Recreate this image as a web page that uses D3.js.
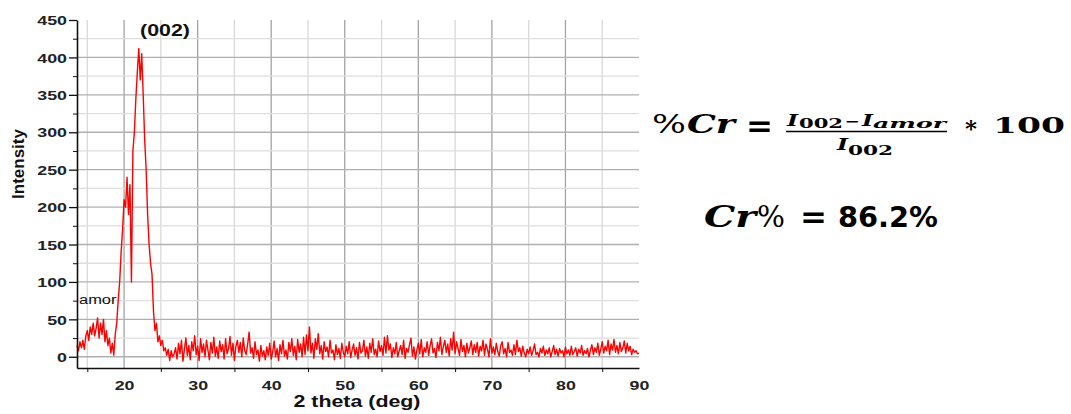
<!DOCTYPE html>
<html lang="en">
<head>
<meta charset="UTF-8">
<title>XRD crystallinity</title>
<script src="https://d3js.org/d3.v7.min.js"></script>
<style>
  body { margin: 0; background: #fff; }
  svg { display: block; }
  .axis text { font-family: "Liberation Sans", Arial, sans-serif; font-weight: bold; font-size: 13px; fill: #222; }
  .axis path, .axis line { stroke: #111; }
</style>
</head>
<body>
<svg id="chart" width="1071" height="414"></svg>
<script>
// scan settings (2 theta, deg)
const thetaStart = 13.6;
const thetaStep = 0.2;

// intensity, one value per 0.2 deg step
const intensity = [
  15, 8, 20, 12, 22, 10, 28, 35, 22, 40,
  30, 45, 28, 38, 52, 25, 45, 30, 50, 20,
  35, 15, 25, 5, 18, 2, 30, 45, 75, 100,
  140, 170, 210, 200, 240, 190, 230, 100, 275, 300,
  345, 380, 412, 370, 405, 350, 290, 250, 190, 150,
  125, 110, 60, 35, 45, 20, 28, 15, 22, 8,
  12, 2, 10, -5, 8, 0, 4,
  // 27.0 ->
  12, -3, 18, 4, 22, -6, 10, 25, 2, 15,
  -4, 20, 8, 28, 3, 14, -5, 24, 6, 17,
  0, 22, 9, -4, 19, 5, 26, 1, 13, -2,
  21, 7, 16, -3, 24, 4, 11, 27, 2, 18,
  -5, 14, 22, 6, 19, 0, 25, 8, 3, 17,
  33, 5, 12, -2, 20, 3, 9, -6, 15, 1,
  8, -4, 13, 2, 18, -3, 6, 21, 0, 11,
  -5, 16, 4, 22, 1, 9, -3, 19, 7, 24,
  2, 14, -4, 23, 6, 17, 0, 26, 3, 29,
  8, 40, 5, 18, -2, 24, 10, 31, 4, 15,
  -3, 20, 7, 13, 0, 22, 5, 9, -4, 16,
  3, 11, -2, 18, 6, 0, 14, 4, 20, -1,
  9, 17, 2, 12, -3, 19, 5, 8, 22, 1,
  13, -2, 18, 6, 24, 3, 10, 0, 21, 7,
  15, 2, 26, 5, 28, 9, 17, -1, 12, 4,
  19, 0, 8, 15, 3, 22, -2, 11, 6, 16,
  25, 1, 13, -3, 9, 18, 4, 23, 0, 12,
  6, 20, 2, 15, 24, 5, 11, -1, 19, 8,
  26, 3, 14, 22, 6, 17, 1, 24, 9, 33,
  4, 20, 11, 2, 23, 7, 15, 0, 18, 5,
  12, 21, 3, 16, 6, 19, 1, 14, 8, 22,
  2, 17, 10, 0, 24, 5, 13, 3, 18, 7,
  1, 15, 20, 4, 11, 0, 19, 6, 9, 2,
  16, 3, 22, 7, 12, 1, 14, 5, 0, 10,
  4, 13, 2, 8, 17, 3, 6, 0, 11, 5,
  14, 2, 9, 4, 12, 0, 7, 15, 3, 10,
  1, 11, 5, 8, 0, 13, 4, 9, 2, 14,
  3, 7, 12, 1, 10, 5, 15, 2, 8, 4,
  11, 0, 9, 16, 3, 12, 6, 18, 2, 10,
  20, 5, 14, 8, 22, 3, 17, 9, 23, 6,
  15, 4, 19, 7, 12, 21, 5, 18, 8, 14,
  3, 10, 6, 8, 4, 5
];

const xMajor = [20, 30, 40, 50, 60, 70, 80, 90];
const xMinor = [15, 25, 35, 45, 55, 65, 75, 85];
const yMajor = [0, 50, 100, 150, 200, 250, 300, 350, 400, 450];
const yMinor = [25, 75, 125, 175, 225, 275, 325, 375, 425];

const svg = d3.select('#chart');
const sx = 1.37; // the picture's text is stretched sideways

const x = d3.scaleLinear().domain([13.6, 90]).range([77, 639]);
const y = d3.scaleLinear().domain([-15, 450]).range([368, 20]);

// grid
const grid = svg.append('g');
grid.selectAll('line.v').data(xMinor.concat(xMajor.filter(d => d < 90)))
  .join('line').attr('class', 'v')
  .attr('x1', d => x(d)).attr('x2', d => x(d))
  .attr('y1', y(450)).attr('y2', y(-15))
  .attr('stroke', d => d % 10 === 0 ? '#a3a3a3' : '#d9d9d9')
  .attr('stroke-width', 1.3);
grid.selectAll('line.h').data(yMinor.concat(yMajor.filter(d => d < 450)))
  .join('line').attr('class', 'h')
  .attr('x1', x(13.6)).attr('x2', x(90))
  .attr('y1', d => y(d)).attr('y2', d => y(d))
  .attr('stroke', d => d % 50 === 0 ? '#b0b0b0' : '#dedede')
  .attr('stroke-width', 1.3);

// pattern
const pts = intensity.map((v, i) => [thetaStart + i * thetaStep, v]);
svg.append('path').datum(pts)
  .attr('fill', 'none').attr('stroke', '#ff0000').attr('stroke-width', 1.4)
  .attr('stroke-linejoin', 'round')
  .attr('d', d3.line().x(d => x(d[0])).y(d => y(d[1])));

// y axis
const yAxis = svg.append('g').attr('class', 'axis').attr('transform', `translate(${x(13.6)},0)`)
  .call(d3.axisLeft(y).tickValues(yMajor).tickSize(8).tickSizeOuter(0));
yAxis.select('.domain').attr('stroke-width', 1.6);
yAxis.selectAll('.tick line').attr('stroke-width', 1.3);
yAxis.selectAll('text').attr('x', null).attr('dy', '0.36em')
  .attr('transform', `translate(-10,0) scale(${sx},1)`);
svg.append('g').attr('class', 'axis').attr('transform', `translate(${x(13.6)},0)`)
  .call(d3.axisLeft(y).tickValues(yMinor).tickSize(4).tickFormat(''))
  .call(g => g.select('.domain').remove());

// x axis
const xAxis = svg.append('g').attr('class', 'axis').attr('transform', `translate(0,${y(-15)})`)
  .call(d3.axisBottom(x).tickValues(xMajor).tickSize(0).tickSizeOuter(0));
xAxis.select('.domain').attr('stroke-width', 1.6);
xAxis.selectAll('text').attr('y', null).attr('dy', null)
  .attr('transform', `translate(0,22) scale(${sx},1)`);
svg.append('g').attr('class', 'axis').attr('transform', `translate(0,${y(-15)})`)
  .call(d3.axisBottom(x).tickValues(xMinor).tickSize(4).tickFormat(''))
  .call(g => g.select('.domain').remove());

// plot labels
function stretched(txt, px, py, size, weight, anchor) {
  return svg.append('text')
    .attr('transform', `translate(${px},${py}) scale(${sx},1)`)
    .attr('text-anchor', anchor || 'middle')
    .style('font-family', '"Liberation Sans", Arial, sans-serif')
    .style('font-size', size + 'px').style('font-weight', weight)
    .attr('fill', '#111').text(txt);
}
stretched('2 theta (deg)', 357, 407, 15.6, 'bold');
stretched('(002)', 165, 36, 15.6, 'bold');
stretched('amor', 79, 304, 12, 'normal', 'start');
svg.append('text')
  .attr('transform', 'translate(24,164) rotate(-90)')
  .attr('text-anchor', 'middle')
  .style('font-family', '"Liberation Sans", Arial, sans-serif')
  .style('font-size', '17px').style('font-weight', 'bold')
  .attr('fill', '#111').text('Intensity');

// formula
const serif = '"DejaVu Serif", serif';
function put(txt, px, py, w, size, weight, style, family) {
  return svg.append('text')
    .attr('x', px).attr('y', py)
    .attr('textLength', w).attr('lengthAdjust', 'spacingAndGlyphs')
    .style('font-family', family || serif)
    .style('font-size', size + 'px')
    .style('font-weight', weight || 'normal')
    .style('font-style', style || 'normal')
    .attr('fill', '#000').text(txt);
}
put('%', 652, 133, 34, 26);
put('Cr', 687, 133, 48, 26, 'bold', 'italic');
put('=', 746, 137, 27, 31, 'bold');
put('I', 787, 126, 11, 16, 'bold', 'italic');
put('002', 799, 128, 44, 13, 'bold');
put('\u2212', 845, 126, 15, 14, 'bold');
put('I', 862, 126, 11, 16, 'bold', 'italic');
put('amor', 873, 128, 73, 13, 'bold', 'italic');
svg.append('line').attr('x1', 786).attr('x2', 947).attr('y1', 131.5).attr('y2', 131.5)
  .attr('stroke', '#000').attr('stroke-width', 1.5);
put('I', 837, 150, 11, 16, 'bold', 'italic');
put('002', 848, 155, 45, 13, 'bold');
put('*', 965, 136, 12, 22, 'bold');
put('100', 993, 133, 72, 23, 'bold');

put('Cr', 704, 227, 52, 29, 'bold', 'italic');
put('%', 757, 227, 28, 29);
put('=', 800, 228, 27, 32, 'bold');
put('86.2%', 838, 227, 100, 28, 'bold', 'normal', '"DejaVu Sans", sans-serif');
</script>
</body>
</html>
